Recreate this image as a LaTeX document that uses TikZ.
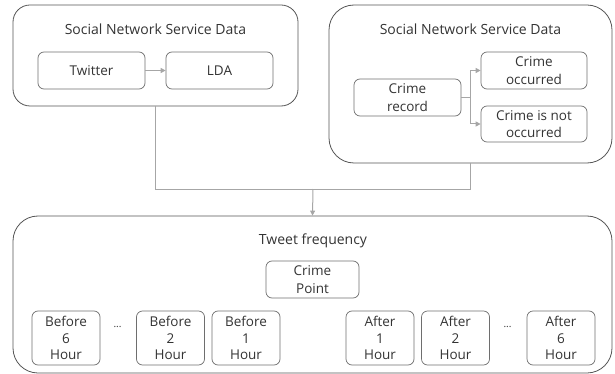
\documentclass[tikz,border=0pt]{standalone}
\usepackage{fontspec}
\setmainfont{Open Sans}
\usetikzlibrary{arrows.meta}
\definecolor{txt}{HTML}{333333}
\definecolor{frame}{HTML}{555555}
\definecolor{sframe}{HTML}{6E6E6E}
\definecolor{conn}{HTML}{A6A6A6}
\begin{document}
\begin{tikzpicture}[x=1pt,y=-1pt,
  bigbox/.style={draw=frame,line width=0.8pt,rounded corners=#1,inner sep=0pt,anchor=center},
  smallbox/.style={draw=sframe,line width=0.7pt,rounded corners=6pt,inner sep=0pt,align=center,text=txt,
     font=\fontsize{13.5}{16.5}\selectfont,minimum width=#1},
  ttl/.style={text=txt,font=\fontsize{14}{16}\selectfont,inner sep=0pt},
  conline/.style={draw=conn,line width=1pt},
  arr/.style={conline,-{Triangle[length=5pt,width=5pt]}},
  dots/.style={text=txt,font=\fontsize{10}{12}\selectfont,inner sep=0pt}]
\useasboundingbox (0,0) rectangle (615,374);
% big boxes
\node[bigbox=17pt,minimum width=285pt,minimum height=101pt] (snsL) at (155.5,55.5) {};
\node[bigbox=25pt,minimum width=283pt,minimum height=158pt] (snsR) at (470.5,84) {};
\node[bigbox=25pt,minimum width=599pt,minimum height=157pt] (tweet) at (312.5,294.5) {};
% titles
\node[ttl] (tL) at (155.5,29) {Social Network Service Data};
\node[ttl] (tR) at (470.5,29) {Social Network Service Data};
\node[ttl] (tB) at (313,241) {Tweet frequency};
% left inner
\node[smallbox=107pt,minimum height=37pt] (twitter) at (91.5,70.5) {Twitter};
\node[smallbox=107pt,minimum height=37pt] (lda) at (219.5,70.5) {LDA};
\draw[arr] (twitter) -- (lda);
% right inner
\node[smallbox=107pt,minimum height=37pt,font=\fontsize{13.5}{17.5}\selectfont] (record) at (407.5,97.5) {Crime\\record};
\node[smallbox=106pt,minimum height=37pt,font=\fontsize{13.5}{17.5}\selectfont] (occ) at (534,70.5) {Crime\\occurred};
\node[smallbox=106pt,minimum height=36pt,font=\fontsize{13.5}{17.5}\selectfont] (nocc) at (534,124) {Crime is not\\occurred};
\coordinate (br) at (470,97.5);
\draw[conline] (record.east) -- (br);
\draw[arr] (br) |- (occ.west);
\draw[arr] (br) |- (nocc.west);
% connectors between big boxes
\coordinate (join) at (313,189);
\draw[conline] (snsL.south) |- (join);
\draw[conline] (snsR.south) |- (join);
\draw[arr] (join) -- (tweet.north);
% bottom inner
\node[smallbox=93pt,minimum height=37pt,font=\fontsize{13.5}{17.5}\selectfont] (cp) at (312.5,279.5) {Crime\\Point};
\node[smallbox=68pt,minimum height=54pt] (b6) at (66,338) {Before\\6\\Hour};
\node[dots] (d1) at (117.5,327) {...};
\node[smallbox=68pt,minimum height=54pt] (b2) at (170.5,338) {Before\\2\\Hour};
\node[smallbox=68pt,minimum height=54pt] (b1) at (246,338) {Before\\1\\Hour};
\node[smallbox=68pt,minimum height=54pt] (a1) at (380,338) {After\\1\\Hour};
\node[smallbox=68pt,minimum height=54pt] (a2) at (455.5,338) {After\\2\\Hour};
\node[dots] (d2) at (507.5,327) {...};
\node[smallbox=68pt,minimum height=54pt] (a6) at (561,338) {After\\6\\Hour};
\end{tikzpicture}
\end{document}
